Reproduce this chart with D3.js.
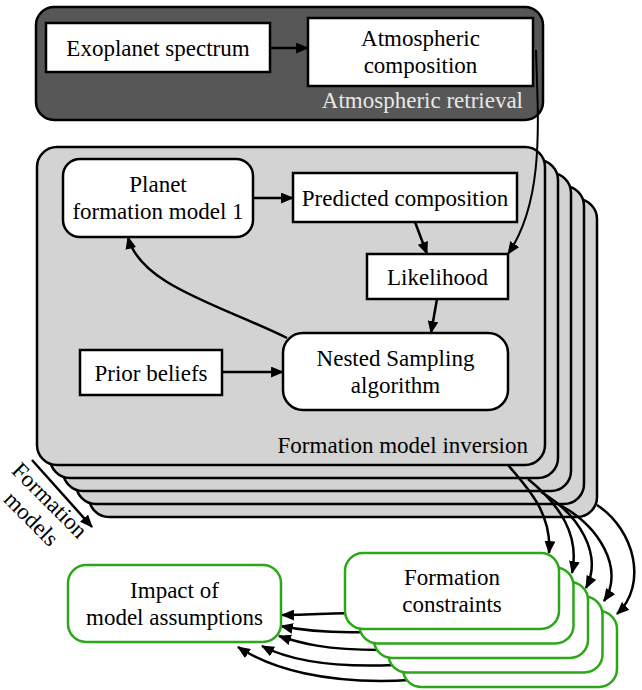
<!DOCTYPE html>
<html>
<head>
<meta charset="utf-8">
<script src="https://cdn.jsdelivr.net/npm/d3@7"></script>
<style>
  body { margin: 0; background: #fff; }
  svg { display: block; }
</style>
</head>
<body>
<svg id="chart" width="642" height="690"></svg>
<script>
'use strict';

// labels of the diagram
var retrievalBoxes = ['Exoplanet spectrum', 'Atmospheric|composition'];
var inversionBoxes = ['Planet|formation model 1', 'Predicted composition', 'Likelihood',
    'Nested Sampling|algorithm', 'Prior beliefs'];
var outputBoxes = ['Impact of|model assumptions', 'Formation|constraints'];
var groupTitles = ['Atmospheric retrieval', 'Formation model inversion'];
var axisLabel = ['Formation', 'models'];
var formationModels = [1, 2, 3, 4, 5];

// layout of the boxes
var layout = {
    'Exoplanet spectrum': { x: 46, y: 23, w: 224, h: 49, rx: 0 },
    'Atmospheric|composition': { x: 308, y: 18, w: 225, h: 68, rx: 0 },
    'Planet|formation model 1': { x: 63, y: 159, w: 190, h: 78, rx: 17 },
    'Predicted composition': { x: 293, y: 173, w: 224, h: 49, rx: 0 },
    'Likelihood': { x: 367, y: 254, w: 141, h: 45, rx: 0 },
    'Nested Sampling|algorithm': { x: 283, y: 333, w: 225, h: 77, rx: 20 },
    'Prior beliefs': { x: 80, y: 350, w: 142, h: 45, rx: 0 },
    'Impact of|model assumptions': { x: 68, y: 565, w: 213, h: 77, rx: 18 },
    'Formation|constraints': { x: 345, y: 553, w: 214, h: 76, rx: 18 }
};

var green = '#2ba718';
var fontFamily = "'Liberation Serif', 'Times New Roman', 'DejaVu Serif', serif";
var svg = d3.select('#chart')
    .attr('font-family', fontFamily)
    .attr('font-size', 23);

var grayShift = d3.scaleLinear().domain([1, 5]).range([0, 52]);
var greenShift = d3.scaleLinear().domain([1, 5]).range([0, 58]);

var defs = svg.append('defs');
defs.append('marker')
    .attr('id', 'head')
    .attr('viewBox', '0 0 12 10')
    .attr('refX', 11)
    .attr('refY', 5)
    .attr('markerUnits', 'userSpaceOnUse')
    .attr('markerWidth', 13)
    .attr('markerHeight', 11)
    .attr('orient', 'auto')
    .append('path')
    .attr('d', 'M0,0L12,5L0,10Z')
    .attr('fill', '#000');

function drawBox(g, name, stroke, fill, sw) {
    var b = layout[name];
    g.append('rect')
        .attr('x', b.x).attr('y', b.y)
        .attr('width', b.w).attr('height', b.h)
        .attr('rx', b.rx).attr('ry', b.rx)
        .attr('fill', fill || '#fff')
        .attr('stroke', stroke || '#000')
        .attr('stroke-width', sw || 2.5);
}

function drawLabel(name) {
    var b = layout[name];
    var lines = name.split('|');
    var cy = b.y + b.h / 2;
    var t = svg.append('text')
        .attr('font-family', fontFamily)
        .attr('text-anchor', 'middle')
        .attr('fill', '#000');
    lines.forEach(function(line, i) {
        var y = lines.length === 1 ? cy + 8 : cy - 6 + i * 27;
        t.append('tspan').attr('x', b.x + b.w / 2).attr('y', y).text(line);
    });
}

function arrow(d, w) {
    svg.append('path')
        .attr('d', d)
        .attr('fill', 'none')
        .attr('stroke', '#000')
        .attr('stroke-width', w || 2.5)
        .attr('marker-end', 'url(#head)');
}

// atmospheric retrieval group
svg.append('rect')
    .attr('x', 36).attr('y', 7).attr('width', 507).attr('height', 113)
    .attr('rx', 18).attr('ry', 18)
    .attr('fill', '#575757').attr('stroke', '#000').attr('stroke-width', 2.5);
svg.append('text')
    .attr('font-family', fontFamily)
    .attr('x', 523).attr('y', 108)
    .attr('text-anchor', 'end')
    .attr('fill', '#e8e8e8')
    .text(groupTitles[0]);

// stacked formation model inversion groups
svg.selectAll('.inv')
    .data(formationModels.slice().reverse())
    .enter().append('rect')
    .attr('class', 'inv')
    .attr('x', function(d) { return 37 + grayShift(d); })
    .attr('y', function(d) { return 147 + grayShift(d); })
    .attr('width', 508).attr('height', 318)
    .attr('rx', 20).attr('ry', 20)
    .attr('fill', '#d3d3d3').attr('stroke', '#000').attr('stroke-width', 2.5);
svg.append('text')
    .attr('font-family', fontFamily)
    .attr('x', 528).attr('y', 453)
    .attr('text-anchor', 'end')
    .attr('fill', '#000')
    .text(groupTitles[1]);

retrievalBoxes.forEach(function(n) { drawBox(svg, n); drawLabel(n); });
inversionBoxes.forEach(function(n) { drawBox(svg, n); drawLabel(n); });

// arrows inside the groups
arrow('M270,48L308,48');
arrow('M253,198L293,198');
arrow('M415,222L427,254');
arrow('M437,299L431,333');
arrow('M222,372L283,372');
arrow('M287,338C220,305 140,285 128,237');
arrow('M536,50C538,120 545,200 508,254', 2);

// constraints -> impact
var backLinks = [
    'M350,613C320,614 300,615 282,615',
    'M365,632C325,633 300,630 281,626',
    'M380,650C325,650 300,643 279,636',
    'M394,665C325,668 285,658 262,646',
    'M410,680C325,685 270,668 238,647'
];
backLinks.forEach(function(d) { arrow(d); });

// inversion -> constraints
var outLinks = [
    'M508,465C530,490 552,515 549,553',
    'M528,479C560,505 580,535 572,573',
    'M541,492C580,515 603,555 586,588',
    'M556,503C600,525 625,570 604,601',
    'M597,505C635,530 648,585 617,614'
];
outLinks.forEach(function(d) { arrow(d); });

// stacked constraint boxes
var fc = layout[outputBoxes[1]];
svg.selectAll('.fc')
    .data(formationModels.slice().reverse())
    .enter().append('rect')
    .attr('class', 'fc')
    .attr('x', function(d) { return fc.x + greenShift(d); })
    .attr('y', function(d) { return fc.y + greenShift(d); })
    .attr('width', fc.w).attr('height', fc.h)
    .attr('rx', fc.rx).attr('ry', fc.rx)
    .attr('fill', '#fff').attr('stroke', green).attr('stroke-width', 2.5);
drawLabel(outputBoxes[1]);

drawBox(svg, outputBoxes[0], green);
drawLabel(outputBoxes[0]);

// formation models label
arrow('M32,460L92,527');
var lab = svg.append('text')
    .attr('font-family', fontFamily)
    .attr('transform', 'translate(50,500) rotate(45)')
    .attr('text-anchor', 'middle')
    .attr('fill', '#000');
axisLabel.forEach(function(line, i) {
    lab.append('tspan').attr('x', 0).attr('y', 8 + i * 26).text(line);
});
</script>
</body>
</html>
